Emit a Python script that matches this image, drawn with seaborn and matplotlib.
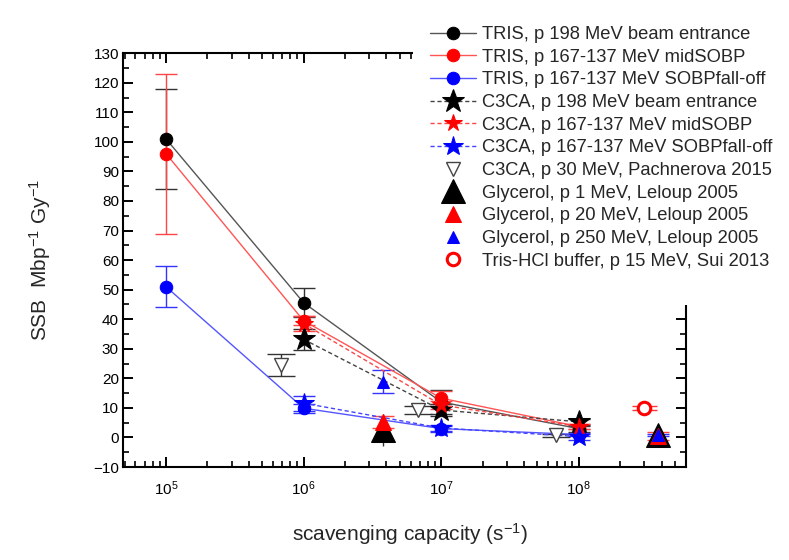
import numpy as np
import pandas as pd
import matplotlib
matplotlib.use("Agg")
import matplotlib.pyplot as plt
import seaborn as sns
from matplotlib.patches import Rectangle
from matplotlib.ticker import MultipleLocator, LogLocator, NullFormatter

# TRIS, lines with circles
tris_x = [1e5, 1e6, 1e7, 1e8]
tris_entrance = [101, 45.6, 12, 3]
tris_entrance_err = [17, 5, 4, 1]
tris_mid = [96, 39.5, 13.3, 3.7]
tris_mid_err = [27, 1.5, 2.5, 1]
tris_fall = [51, 9.9, 3, 1]
tris_fall_err = [7, 1.5, 1, 0.5]

# C3CA, dotted lines with stars
c3ca_x = [1e6, 1e7, 1e8]
c3ca_entrance = [33.2, 9.3, 5.3]
c3ca_entrance_err = [3.6, 2, 1]
c3ca_mid = [38.5, 11, 3.7]
c3ca_mid_err = [2.5, 1.5, 1]
c3ca_fall = [11.6, 3.2, 0.3]
c3ca_fall_err = [2.5, 1, 1]

# C3CA, Pachnerova 2015
pach_x = [6.8e5, 6.8e6, 6.8e7]
pach_y = [24.5, 9.3, 0.8]
pach_err = [3.7, 1.5, 0.5]

# Glycerol, Leloup 2005
glyc_x = [3.8e6, 3.75e8]
glyc_1 = [2.5, 0.8]
glyc_1_err = [5.5, 0.0]
glyc_20 = [5.3, 0.5]
glyc_20_err = [2.0, 1.3]
glyc_250 = [18.9, 0.9]
glyc_250_err = [3.8, 0.4]

# Tris-HCl buffer, Sui 2013
sui_x = [2.96e8]
sui_y = [9.9]
sui_err = [0.6]

labels = ["TRIS, p 198 MeV beam entrance",
          "TRIS, p 167-137 MeV midSOBP",
          "TRIS, p 167-137 MeV SOBPfall-off",
          "C3CA, p 198 MeV beam entrance",
          "C3CA, p 167-137 MeV midSOBP",
          "C3CA, p 167-137 MeV SOBPfall-off",
          "C3CA, p 30 MeV, Pachnerova 2015",
          "Glycerol, p 1 MeV, Leloup 2005",
          "Glycerol, p 20 MeV, Leloup 2005",
          "Glycerol, p 250 MeV, Leloup 2005",
          "Tris-HCl buffer, p 15 MeV, Sui 2013"]

sns.set_theme(style="ticks")
plt.rcParams['font.family'] = ['Liberation Sans', 'DejaVu Sans']
plt.rcParams['mathtext.default'] = 'regular'

fig = plt.figure(figsize=(7.89, 5.60), dpi=100)
ax = fig.add_axes([0.156, 0.166, 0.713, 0.739])
ax.set_xscale('log')

# error bars first, markers on top
def errs(x, y, e, color, cap=8):
    ax.errorbar(x, y, yerr=e, fmt='none', ecolor=color, elinewidth=1,
                capsize=cap, capthick=1, zorder=2)

errs(tris_x, tris_entrance, tris_entrance_err, '#333333')
errs(tris_x, tris_mid, tris_mid_err, '#ff4444')
errs(tris_x, tris_fall, tris_fall_err, '#3333ff')
errs(c3ca_x, c3ca_entrance, c3ca_entrance_err, '#333333')
errs(c3ca_x, c3ca_mid, c3ca_mid_err, '#ff4444')
errs(c3ca_x, c3ca_fall, c3ca_fall_err, '#3333ff')
errs(pach_x, pach_y, pach_err, '#333333', cap=10)
errs(glyc_x, glyc_1, glyc_1_err, '#333333', cap=0)
errs(glyc_x, glyc_20, glyc_20_err, '#ff4444')
errs(glyc_x, glyc_250, glyc_250_err, '#3333ff')
errs(sui_x, sui_y, sui_err, '#ff3333', cap=9)

dash = (0, (3, 2))
tris_series = [(tris_entrance, 'black', '#555555'),
               (tris_mid, 'red', '#ff5555'),
               (tris_fall, 'blue', '#5555ff')]
for (vals, c, lc), lab in zip(tris_series, labels[:3]):
    sns.lineplot(x=tris_x, y=vals, ax=ax, color=lc, linewidth=1,
                 marker='o', markersize=9, markerfacecolor=c,
                 markeredgecolor=c, label=lab, zorder=3)

c3ca_series = [(c3ca_entrance, 'black', '#444444', 17),
               (c3ca_mid, 'red', '#ff4444', 13),
               (c3ca_fall, 'blue', '#4444ff', 15)]
for (vals, c, lc, ms), lab in zip(c3ca_series, labels[3:6]):
    sns.lineplot(x=c3ca_x, y=vals, ax=ax, color=lc, linewidth=1,
                 linestyle=dash, marker='*', markersize=ms,
                 markerfacecolor=c, markeredgecolor=c, label=lab, zorder=4)

sns.lineplot(x=pach_x, y=pach_y, ax=ax, linestyle='none', marker='v',
             markersize=10, markerfacecolor='white', markeredgecolor='#444444',
             markeredgewidth=1, label=labels[6], zorder=4)

glyc_series = [(glyc_1, 'black', 17), (glyc_20, 'red', 12), (glyc_250, 'blue', 9)]
for (vals, c, ms), lab in zip(glyc_series, labels[7:10]):
    sns.lineplot(x=glyc_x, y=vals, ax=ax, linestyle='none', marker='^',
                 markersize=ms, markerfacecolor=c, markeredgecolor=c,
                 label=lab, zorder=5)

sns.lineplot(x=sui_x, y=sui_y, ax=ax, linestyle='none', marker='o',
             markersize=9, markerfacecolor='white', markeredgecolor='red',
             markeredgewidth=2.2, label=labels[10], zorder=5)

if ax.get_legend() is not None:
    ax.get_legend().remove()

ax.set_xlim(10**4.688, 10**8.777)
ax.set_ylim(-10, 130)
ax.yaxis.set_major_locator(MultipleLocator(10))
ax.yaxis.set_minor_locator(MultipleLocator(5))
ax.xaxis.set_major_locator(LogLocator(base=10, numticks=10))
ax.xaxis.set_minor_locator(LogLocator(base=10, subs=np.arange(2, 10), numticks=20))
ax.xaxis.set_minor_formatter(NullFormatter())

for s in ax.spines.values():
    s.set_linewidth(1.5)
    s.set_color('black')
ax.tick_params(which='both', direction='in', top=True, right=True, colors='black',
               labelsize=11)
ax.tick_params(which='major', length=7, width=1.4)
ax.tick_params(which='minor', length=4, width=1.2)
ax.tick_params(axis='y', pad=3)
ax.tick_params(axis='x', pad=9)

ax.set_xlabel("scavenging capacity (s$^{-1}$)", fontsize=15)
ax.set_ylabel("SSB  Mbp$^{-1}$ Gy$^{-1}$", fontsize=15)
ax.xaxis.set_label_coords(0.511, -0.13)
ax.yaxis.set_label_coords(-0.125, 0.5)

# white area behind the legend hides the top-right part of the frame
fig.add_artist(Rectangle((413 / 789, 1 - 305 / 560), 1, 1, transform=fig.transFigure,
                         facecolor='white', edgecolor='none', zorder=1))

handles, labs = ax.get_legend_handles_labels()
lookup = dict(zip(labs, handles))
fig.legend([lookup[l] for l in labels], labels, loc='upper left',
           bbox_to_anchor=(430 / 789, 1 - 26 / 560), frameon=False,
           fontsize=13.2, labelspacing=0.31, handlelength=2.5,
           handletextpad=0.35, borderpad=0, borderaxespad=0, numpoints=1)

fig.savefig("out.png", dpi=100, facecolor='white')
